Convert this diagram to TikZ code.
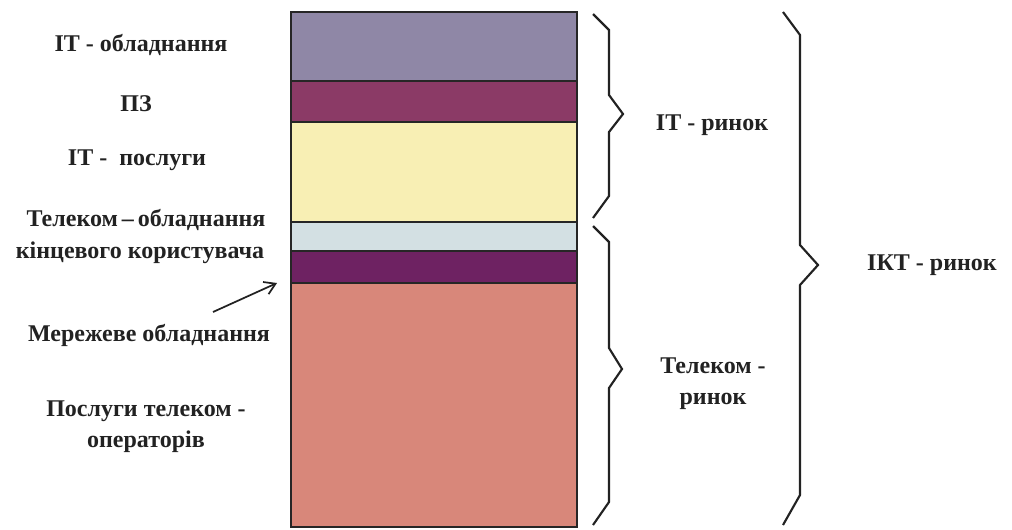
\documentclass[tikz,border=0pt]{standalone}
\usepackage{fontspec}
\setmainfont{Liberation Serif}
\usetikzlibrary{arrows.meta}
\definecolor{hwgrey}{HTML}{8F87A6}
\definecolor{swplum}{HTML}{8B3A66}
\definecolor{svcyellow}{HTML}{F8EFB4}
\definecolor{termblue}{HTML}{D3E0E3}
\definecolor{netpurple}{HTML}{6E2262}
\definecolor{opsalmon}{HTML}{D8877A}
\definecolor{ink}{HTML}{222222}
\tikzset{
  band/.style={draw=black!85, line width=1.3},
  bracket/.style={draw=ink, line width=1.6, line join=miter},
  lbl/.style={text=ink, font=\bfseries\fontsize{18}{23}\selectfont, inner sep=0pt, align=center},
  pointer/.style={draw=ink, line width=1.3, -{Straight Barb[length=8pt,width=10pt]}}
}
\begin{document}
\begin{tikzpicture}[x=0.75pt,y=-0.75pt]
\useasboundingbox (0,0) rectangle (1012,529);
% stacked bar of market segments
\path[band, fill=hwgrey]     (291,12)  rectangle (577,81);
\path[band, fill=swplum]     (291,81)  rectangle (577,122);
\path[band, fill=svcyellow]  (291,122) rectangle (577,222);
\path[band, fill=termblue]   (291,222) rectangle (577,251);
\path[band, fill=netpurple]  (291,251) rectangle (577,283);
\path[band, fill=opsalmon]   (291,283) rectangle (577,527);
% segment labels
\node[lbl] (ithw)  at (141,45)  {ІТ - обладнання};
\node[lbl] (sw)    at (136,104) {ПЗ};
\node[lbl] (itsv)  at (137,160) {ІТ -\ \ послуги};
\node[lbl] (tchw)  at (146,220) {Телеком\,–\,обладнання};
\node[lbl] (tchw2) at (140,253) {кінцевого користувача};
\node[lbl] (net)   at (149,335) {Мережеве обладнання};
\node[lbl] (ops)   at (146,427) {Послуги телеком -\\операторів};
\coordinate (arrtip) at (277,283);
\coordinate (arrtail) at (213,312);
\draw[pointer] (arrtail) -- (arrtip);
% braces
\draw[bracket] (593,14) -- (609,30) -- (609,95) -- (623,114) -- (609,132) -- (609,196) -- (593,218);
\draw[bracket] (593,226) -- (609,242) -- (609,348) -- (622,369) -- (609,388) -- (609,502) -- (593,525);
\draw[bracket] (783,12) -- (800,35) -- (800,245) -- (818,265) -- (800,285) -- (800,495) -- (783,525);
\node[lbl] (itm)  at (712,125) {ІТ - ринок};
\node[lbl] (tcm)  at (713,384) {Телеком -\\ринок};
\node[lbl] (ictm) at (932,265) {ІКТ - ринок};
\end{tikzpicture}
\end{document}
